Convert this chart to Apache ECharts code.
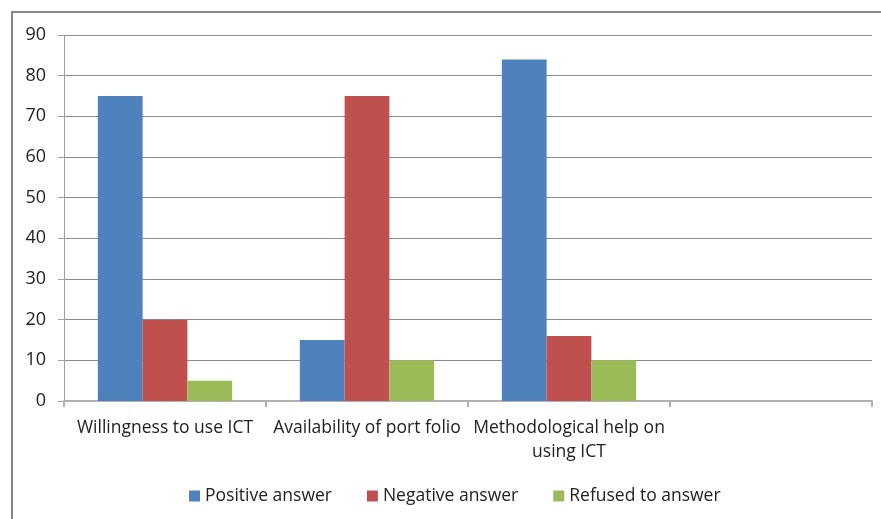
<!DOCTYPE html>
<html><head><meta charset="utf-8">
<script src="https://cdn.jsdelivr.net/npm/echarts@6/dist/echarts.min.js"></script>
<style>html,body{margin:0;padding:0;background:#fff}#c{width:881px;height:519px}</style>
</head><body><div id="c"></div>
<script>
var categories = ["Willingness to use ICT", "Availability of port folio", "Methodological help on\nusing ICT", ""];
var positive = [75, 15, 84, null];
var negative = [20, 75, 16, null];
var refused = [5, 10, 10, null];
var yTicks = [0, 10, 20, 30, 40, 50, 60, 70, 80, 90];

var chart = echarts.init(document.getElementById('c'));
var font = '"Open Sans", "Noto Sans", sans-serif';
chart.setOption({
  animation: false,
  textStyle: {fontFamily: font},
  graphic: [{type: 'rect', shape: {x: 12, y: 12, width: 900, height: 540}, style: {fill: 'none', stroke: '#878787', lineWidth: 2}}],
  grid: {left: 64, right: 9, top: 35, bottom: 118, containLabel: false},
  legend: {
    bottom: 9, left: 184, itemWidth: 11, itemHeight: 11, itemGap: 35, icon: 'rect',
    textStyle: {fontSize: 17.5, color: '#222', fontFamily: font},
    data: ['Positive answer', 'Negative answer', 'Refused to answer']
  },
  xAxis: {
    type: 'category', data: categories,
    axisLine: {lineStyle: {color: '#b0b0b0', width: 2}},
    axisTick: {show: true, length: 6, lineStyle: {color: '#b0b0b0', width: 2}, alignWithLabel: false},
    axisLabel: {fontSize: 17.5, color: '#222', margin: 15, lineHeight: 24, interval: 0, fontFamily: font}
  },
  yAxis: {
    type: 'value', min: yTicks[0], max: yTicks[yTicks.length - 1], interval: 10,
    axisLine: {show: true, lineStyle: {color: '#a0a0a0', width: 1}},
    axisTick: {show: true, length: 6, inside: false, lineStyle: {color: '#a0a0a0'}},
    splitLine: {lineStyle: {color: '#8c8c8c', width: 1}},
    axisLabel: {fontSize: 18, color: '#222', margin: 18, fontFamily: font,
      formatter: function (v) { return yTicks.indexOf(v) >= 0 ? String(v) : ''; }}
  },
  series: [
    {name: 'Positive answer', type: 'bar', data: positive, itemStyle: {color: '#4f81bd'}, barGap: '0%', barCategoryGap: '33.5%'},
    {name: 'Negative answer', type: 'bar', data: negative, itemStyle: {color: '#c0504d'}},
    {name: 'Refused to answer', type: 'bar', data: refused, itemStyle: {color: '#9bbb59'}}
  ]
});
</script></body></html>
